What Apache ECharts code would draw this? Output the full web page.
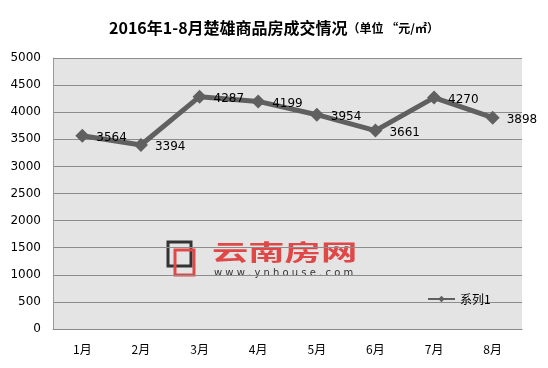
<!DOCTYPE html>
<html><head><meta charset="utf-8">
<script src="https://cdn.jsdelivr.net/npm/echarts@6/dist/echarts.min.js"></script>
<style>html,body{margin:0;padding:0;background:#fff}#c{width:548px;height:368px}</style>
</head><body><div id="c"></div>
<script>
const categories = ['1月','2月','3月','4月','5月','6月','7月','8月'];
const values = [3564, 3394, 4287, 4199, 3954, 3661, 4270, 3898];
const seriesName = '系列1';
const titleMain = '2016年1-8月楚雄商品房成交情况';
const titleUnit = '（单位 “元/㎡）';

const chart = echarts.init(document.getElementById('c'));
chart.setOption({
  animation: false,
  backgroundColor: '#fff',
  title: {
    text: '{a|' + titleMain + '}{b|' + titleUnit + '}',
    left: 'center', top: 15,
    textStyle: { rich: {
      a: { fontSize: 16, fontWeight: 'bold', color: '#000', fontFamily: 'Noto Sans CJK SC' },
      b: { fontSize: 12, fontWeight: 'bold', color: '#000', fontFamily: 'Noto Sans CJK SC' }
    }}
  },
  grid: { left: 53, right: 26, top: 58, bottom: 39, show: true, backgroundColor: '#e4e4e4', borderWidth: 0 },
  legend: {
    data: [seriesName], left: 422, top: 288, itemWidth: 27, itemHeight: 8,
    textStyle: { fontSize: 12, color: '#000', fontFamily: 'Noto Sans CJK SC' }
  },
  xAxis: {
    type: 'category', data: categories, boundaryGap: true,
    axisLine: { lineStyle: { color: '#888' } }, axisTick: { show: false },
    axisLabel: { color: '#000', fontSize: 12, margin: 14, fontFamily: 'Noto Sans CJK SC' }
  },
  yAxis: {
    type: 'value', min: 0, max: 5000, interval: 500,
    axisLine: { show: true, lineStyle: { color: '#999' } }, axisTick: { show: false },
    splitLine: { lineStyle: { color: '#8c8c8c', width: 1 } },
    axisLabel: { color: '#000', fontSize: 12, margin: 12, fontFamily: 'DejaVu Sans', formatter: v => String(v) }
  },
  series: [{
    name: seriesName, type: 'line', data: values,
    symbol: 'diamond', symbolSize: 14,
    lineStyle: { color: '#606060', width: 5 },
    itemStyle: { color: '#606060' },
    label: { show: true, position: 'right', offset: [2, 2], color: '#000', fontSize: 12, fontFamily: 'DejaVu Sans' }
  }],
  graphic: [
    { type: 'rect', shape: { x: 168, y: 242, width: 23, height: 24 }, style: { fill: 'none', stroke: '#333', lineWidth: 3 }, silent: true },
    { type: 'rect', shape: { x: 175, y: 250, width: 19, height: 25 }, style: { fill: 'none', stroke: '#e04848', lineWidth: 3 }, silent: true },
    { type: 'text', x: 212, y: 241, scaleX: 1.65, style: { text: '云南房网', fill: '#e04848', fontSize: 22, fontWeight: 'bold', fontFamily: 'Noto Sans CJK SC' }, silent: true },
    { type: 'text', left: 214, top: 268, style: { text: 'w w w . y n h o u s e . c o m', fill: '#333', fontSize: 10, fontFamily: 'DejaVu Sans' }, silent: true }
  ]
});
</script></body></html>
